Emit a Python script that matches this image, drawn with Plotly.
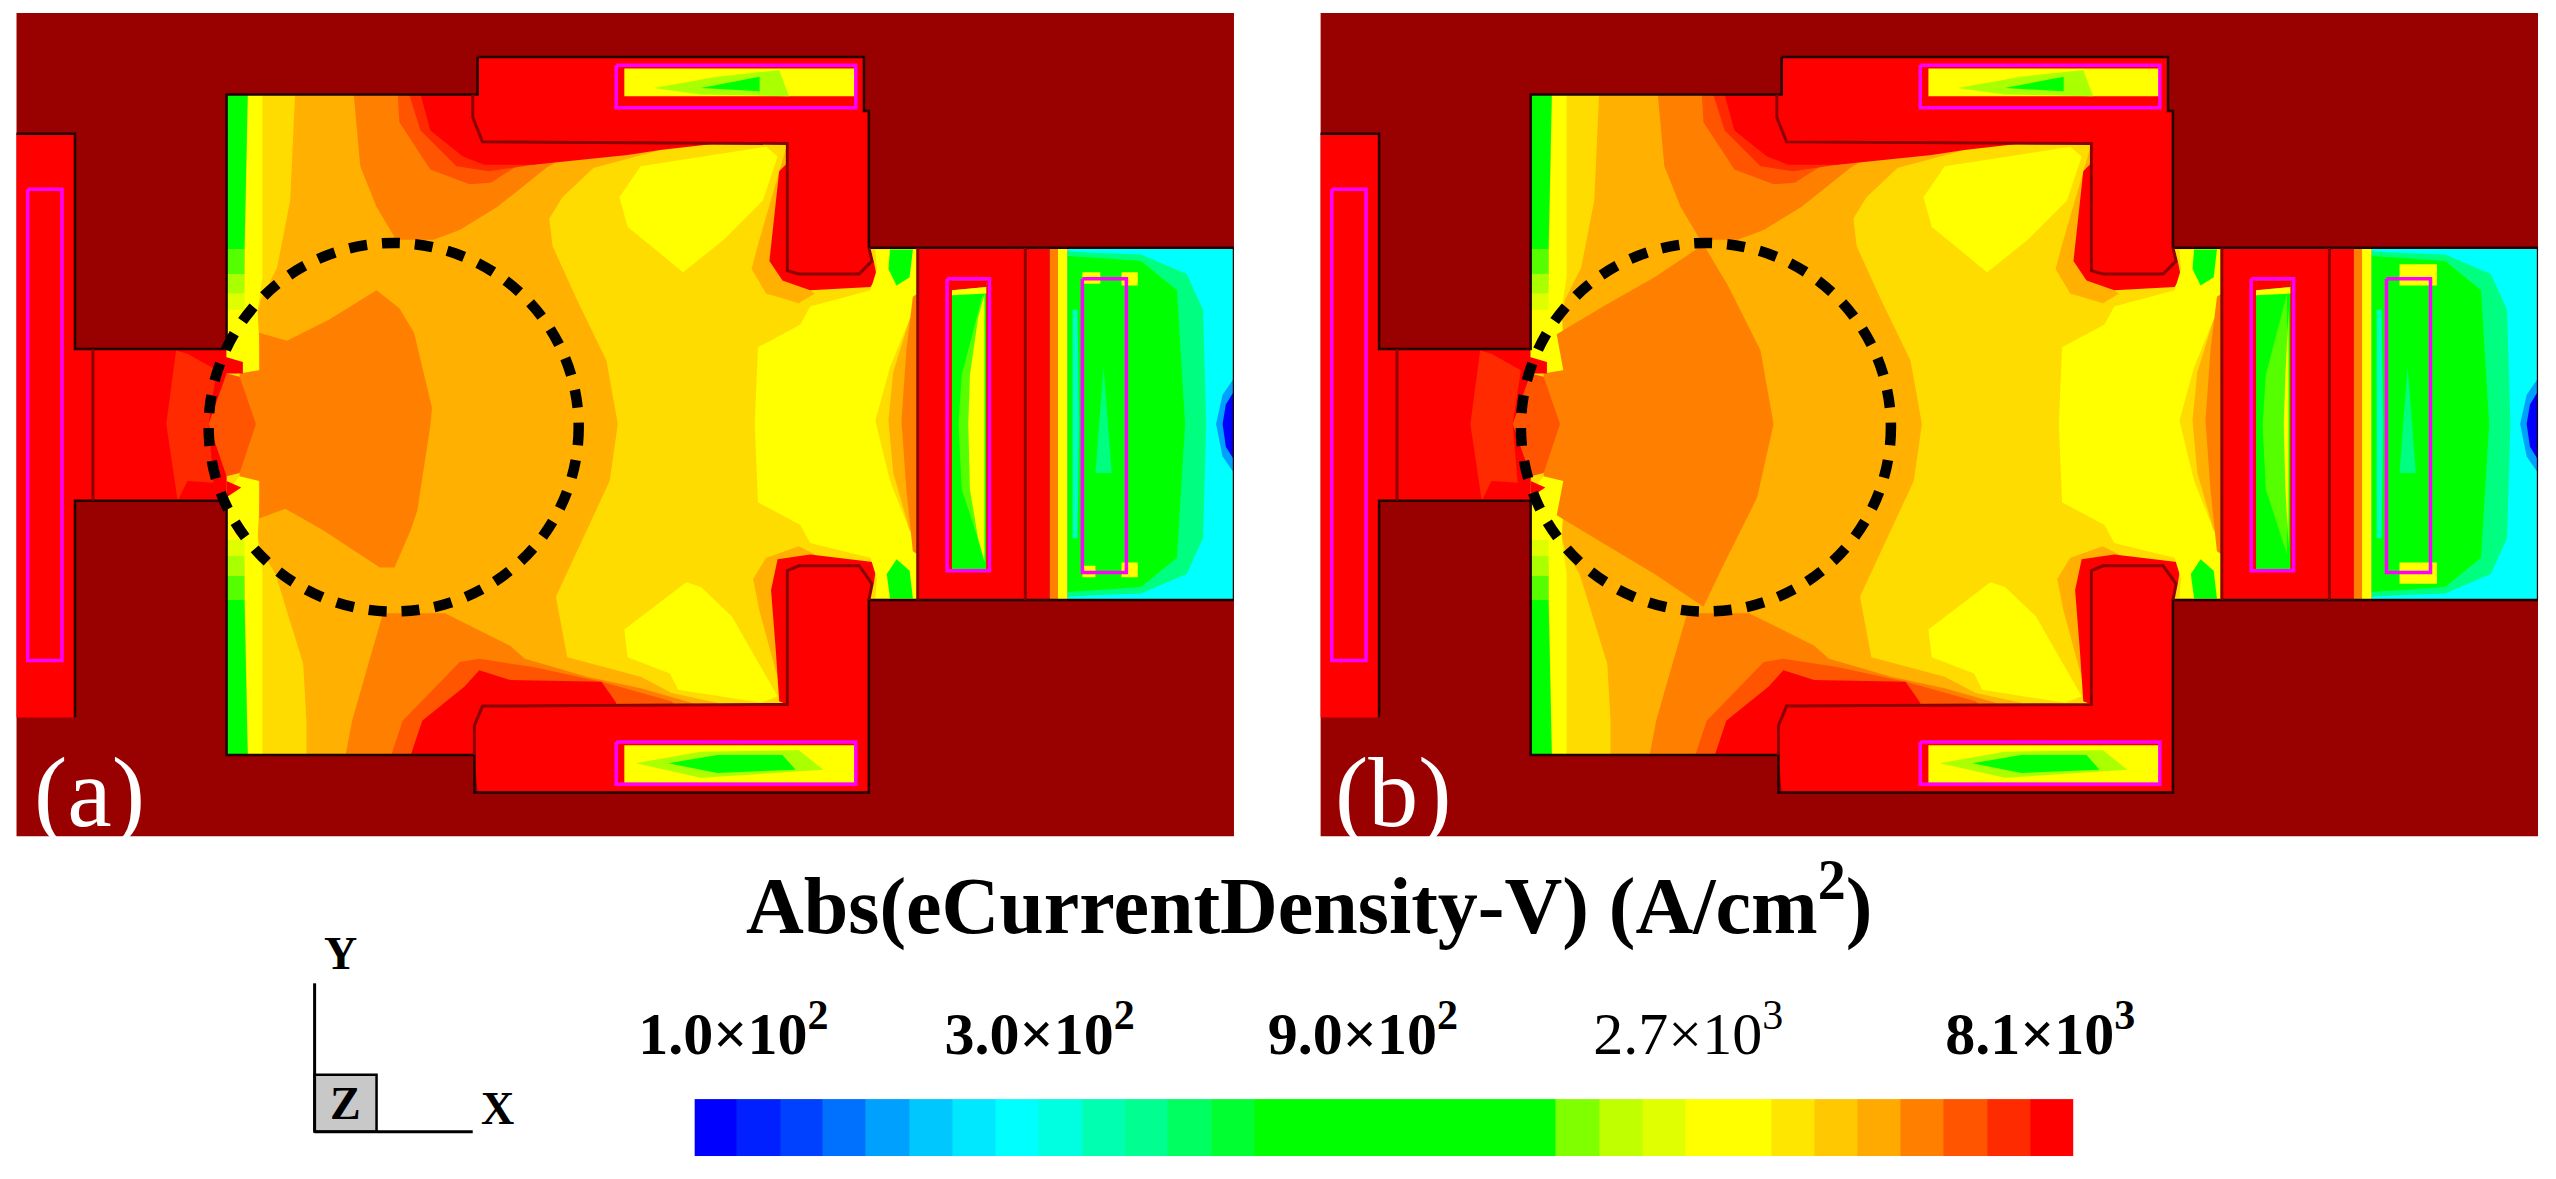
import plotly.graph_objects as go

# picture units, the whole figure is 1568 x 723 of them
W, H = 1568, 723
SERIF = "Liberation Serif"

DARK = "#990000"
RED = "#ff0000"
RED2 = "#ff2a00"
RED3 = "#ff5500"
ORANGE = "#ff8000"
AMBER = "#ffb000"
GOLD = "#ffdc00"
YELLOW = "#ffff00"
LIME1 = "#dfff00"
LIME2 = "#aaff00"
LIME3 = "#55ff00"
GREEN = "#00ff00"
SPRING = "#00ff80"
CYAN = "#00ffff"
SKY = "#00a0ff"
BLUE = "#0000ff"
MAGENTA = "#ff00ff"

# colour bar
bar_edges = [87.7, 101, 117, 135, 156, 181, 209, 241, 279, 323, 373, 431, 499, 576, 666, 770, 890,
             1029, 1189, 1375, 1589, 1837, 2123, 2455, 2838, 3280, 3792, 4383, 5067, 5857, 6771, 7827, 9057]
bar_levels = list(range(32))
bar_colors = ["#0000ff", "#0020ff", "#0040ff", "#0070ff", "#00a0ff", "#00c8ff", "#00e8ff", "#00ffff",
              "#00ffe0", "#00ffb0", "#00ff90", "#00ff60", "#00ff30", "#00ff00", "#00ff00", "#00ff00",
              "#00ff00", "#00ff00", "#00ff00", "#00ff00", "#80ff00", "#c0ff00", "#e0ff00", "#ffff00",
              "#ffff00", "#ffe600", "#ffc800", "#ffaa00", "#ff8000", "#ff5500", "#ff2b00", "#ff0000"]
# where the labels sit along the bar
tick_values = [100, 280, 830, 2480, 8100]
tick_labels = ["<b>1.0×10<sup>2</sup></b>", "<b>3.0×10<sup>2</sup></b>", "<b>9.0×10<sup>2</sup></b>",
               "2.7×10<sup>3</sup>", "<b>8.1×10<sup>3</sup></b>"]

# device parts
panel = [(10, 8), (757, 8), (757, 513), (10, 513)]
gate = [(10, 82), (46, 82), (46, 440), (10, 440)]
neck = [(46, 214), (139, 214), (139, 307), (46, 307)]
top_block = [(293, 35), (530, 35), (530, 68), (533, 68), (533, 152), (535, 160), (527, 168), (490, 168), (483, 166),
             (483, 88), (296, 87), (290, 72), (290, 58), (293, 57)]
bottom_block = [(293, 486), (533, 486), (533, 368), (535, 358), (527, 347), (490, 347), (483, 350),
                (483, 432), (296, 433), (291, 445), (291, 463)]
right_red = [(563, 152), (644, 152), (644, 368), (563, 368)]
cavity = [(139, 58), (290, 58), (290, 72), (296, 87), (483, 88), (483, 166), (490, 168), (527, 168), (535, 160), (533, 152),
          (563, 152), (563, 368), (533, 368), (535, 358), (527, 347), (490, 347), (483, 350), (483, 432),
          (296, 433), (291, 445), (291, 463), (139, 463)]

# contour regions of the main cavity
amber_zone = [(181, 58), (290, 58), (290, 72), (296, 87), (420, 88), (364, 103), (345, 121), (337, 134), (339, 151),
              (354, 184), (372, 221), (379, 260), (374, 295), (360, 325), (341, 366), (348, 403), (393, 415),
              (412, 425), (440, 431), (440, 433), (296, 433), (291, 445), (291, 463), (188, 463), (188, 442), (186, 407),
              (169, 352), (160, 337), (155, 316), (150, 280), (150, 240), (155, 205), (160, 184), (170, 164), (178, 123)]
orange_top = [(217, 58), (290, 58), (290, 72), (296, 87), (360, 88), (335, 103), (305, 127), (282, 141), (266, 147),
              (243, 147), (231, 127), (221, 102)]
red3_top = [(244, 58), (290, 58), (290, 72), (296, 87), (370, 88), (345, 95), (317, 102), (301, 112), (288, 113),
            (264, 104), (245, 75)]
red2_top = [(251, 58), (290, 58), (290, 72), (296, 87), (390, 88), (340, 99), (300, 105), (280, 102), (258, 80)]
red_top = [(258, 58), (290, 58), (290, 72), (296, 87), (440, 88), (405, 92), (385, 95), (327, 101), (297, 101),
           (284, 96), (264, 80)]
orange_bottom = [(212, 463), (216, 442), (226, 407), (235, 376), (273, 376), (313, 396), (322, 404), (360, 415),
                 (393, 422), (421, 430), (430, 433), (296, 433), (291, 445), (291, 463)]
red3_bottom = [(240, 463), (247, 442), (282, 406), (294, 404), (327, 409), (369, 418), (412, 430), (415, 433),
               (296, 433), (291, 445), (291, 463)]
red_bottom = [(252, 463), (259, 442), (285, 421), (294, 411), (313, 417), (369, 418), (378, 431), (378, 433),
              (296, 433), (291, 445), (291, 463)]
yellow_upper = [(380, 121), (393, 102), (470, 90), (477, 96), (468, 123), (444, 147), (419, 167), (385, 139)]
yellow_lower = [(421, 357), (383, 386), (385, 403), (411, 413), (416, 423), (467, 431), (477, 427), (449, 378), (430, 360)]
yellow_right = [(465, 213), (491, 199), (497, 188), (534, 178), (538, 165), (537, 153), (562, 153), (562, 190), (558, 196),
                (546, 225), (537, 258), (546, 295), (558, 325), (562, 332), (562, 367), (537, 367), (538, 355),
                (534, 342), (497, 333), (491, 322), (465, 308), (463, 260)]
amber_right = [(558, 196), (563, 190), (563, 330), (558, 325), (548, 290), (545, 258), (548, 228)]
orange_right = [(560, 182), (563, 180), (563, 340), (560, 338), (556, 300), (553, 258), (556, 215)]
amber_corner_top = [(481, 95), (483, 88), (483, 170), (500, 180), (490, 186), (470, 180), (461, 165), (465, 150)]
red_corner_top = [(483, 100), (478, 105), (472, 160), (480, 172), (497, 178), (534, 176), (538, 170), (536, 160),
                  (527, 168), (490, 168), (483, 166)]
amber_corner_bottom = [(481, 430), (483, 432), (483, 350), (500, 340), (490, 335), (470, 342), (462, 355), (466, 375)]
red_corner_bottom = [(478, 430), (483, 432), (483, 350), (490, 347), (527, 347), (536, 358), (538, 345), (497, 340),
                     (477, 343), (473, 362), (476, 400)]
blob_top = [(546, 153), (560, 153), (558, 170), (550, 175), (545, 165)]
blob_bottom = [(546, 367), (560, 367), (558, 350), (550, 343), (544, 352)]

# strip along the left wall
green_top = [(139, 58), (152, 58), (150, 153), (139, 153)]
lime3_top = [(139, 153), (150, 153), (150, 168), (139, 168)]
lime2_top = [(139, 168), (150, 168), (150, 180), (139, 180)]
lime1_top = [(139, 180), (150, 180), (150, 190), (139, 190)]
yellow_top = [(139, 190), (150, 175), (152, 58), (161, 58), (161, 170), (158, 190), (160, 227), (147, 229), (139, 219)]
green_bottom = [(139, 463), (152, 463), (150, 368), (139, 368)]
lime3_bottom = [(139, 368), (150, 368), (150, 353), (139, 353)]
lime2_bottom = [(139, 353), (150, 353), (150, 341), (139, 341)]
lime1_bottom = [(139, 341), (150, 341), (150, 331), (139, 331)]
yellow_bottom = [(139, 331), (150, 346), (152, 463), (161, 463), (161, 351), (158, 331), (160, 294), (147, 292), (139, 302)]

# neck field
neck_red2 = [(108, 215), (115, 217), (133, 227), (128, 260), (131, 296), (115, 295), (109, 307), (102, 260)]
neck_red3 = [(139, 229), (147, 231), (157, 260), (147, 290), (139, 292), (128, 260)]
tip_top = [(139, 219), (149, 222), (149, 229), (139, 229), (133, 227)]
tip_bottom = [(139, 295), (148, 299), (139, 305)]

# central spot differs between the panels
centre_a = [(147, 229), (159, 227), (159, 204), (176, 209), (202, 196), (231, 178), (245, 189), (254, 204), (265, 250),
            (264, 261), (256, 313), (252, 325), (242, 348), (233, 348), (198, 325), (175, 312), (159, 318), (159, 295), (147, 292)]
centre_b = [(147, 229), (159, 227), (155, 205), (185, 187), (215, 170), (245, 150), (260, 175), (280, 215), (288, 260),
            (278, 305), (258, 345), (245, 372), (215, 352), (185, 334), (155, 316), (159, 295), (147, 292)]

# right part of the channel
right_orange = [(644, 152), (649, 152), (649, 368), (644, 368)]
right_yellow = [(649, 152), (655, 152), (655, 368), (649, 368)]
field_cyan = [(655, 152), (757, 152), (757, 368), (655, 368)]
field_spring = [(655, 154), (670, 155), (700, 156), (728, 168), (738, 190), (740, 260), (738, 330), (728, 352), (700, 364),
                (670, 365), (655, 366)]
field_green = [(655, 157), (672, 158), (700, 160), (722, 178), (727, 260), (722, 342), (700, 360), (672, 362), (655, 363)]
sliver = [(658, 190), (661, 190), (662, 260), (661, 330), (658, 330)]
blue_outer = [(757, 232), (750, 242), (746, 260), (750, 280), (757, 290)]
blue_inner = [(757, 240), (752, 248), (750, 260), (752, 274), (757, 282)]
spike = [(677, 225), (682, 290), (672, 290)]
tips_a = [[(664, 167), (675, 167), (675, 174), (664, 174)], [(688, 167), (698, 167), (698, 175), (688, 175)],
          [(664, 347), (672, 347), (672, 354), (664, 354)], [(688, 345), (698, 345), (698, 354), (688, 354)]]
tips_b = [[(672, 162), (695, 162), (695, 175), (672, 175)], [(672, 345), (695, 345), (695, 358), (672, 358)]]
rect_green = [(584, 172), (605, 172), (605, 350), (584, 350)]
rect_top_red = [(584, 172), (605, 172), (605, 176), (584, 178)]
rect_top_yellow = [(584, 178), (605, 176), (605, 180), (584, 181)]
rect_lime = [(603, 180), (590, 230), (588, 260), (590, 300), (603, 340)]
rect_yellow_a = [(604, 180), (600, 195), (595, 230), (594, 260), (595, 300), (600, 330), (604, 345)]
rect_yellow_b = [(604, 190), (602, 230), (601, 260), (602, 300), (604, 335)]

# contacts, top and bottom
contact_top = [(383, 42), (525, 42), (525, 59), (383, 59)]
wedge_top_lime = [(401, 54), (440, 47), (478, 43), (484, 59), (430, 58)]
wedge_top_green = [(430, 54), (466, 47), (466, 56)]
contact_bottom = [(383, 457), (525, 457), (525, 480), (383, 480)]
wedge_bottom_lime = [(390, 468), (430, 461), (490, 460), (505, 472), (430, 477)]
wedge_bottom_green = [(410, 468), (440, 463), (480, 463), (488, 472), (440, 474)]

# outlines
wall_left = [(10, 82), (46, 82), (46, 214), (139, 214), (139, 58), (293, 58), (293, 35)]
wall_left_low = [(46, 440), (46, 307), (139, 307), (139, 463), (291, 463), (291, 486), (533, 486), (533, 368), (757, 368)]
wall_right = [(533, 152), (533, 68), (530, 68), (530, 35), (293, 35)]
wall_channel = [(533, 152), (757, 152), (757, 368)]
edge_top = [(290, 58), (290, 72), (296, 87), (483, 88), (483, 166), (490, 168), (527, 168), (535, 160), (533, 152)]
edge_bottom = [(291, 463), (291, 445), (296, 433), (483, 432), (483, 350), (490, 347), (527, 347), (535, 358), (533, 368)]
edges_inner = [[(57, 214), (57, 307)], [(563, 152), (563, 368)], [(629, 152), (629, 368)]]
pink_rects = [[(17, 116), (38, 116), (38, 405), (17, 405), (17, 116)],
              [(378, 40), (525, 40), (525, 66), (378, 66), (378, 40)],
              [(378, 455), (525, 455), (525, 481), (378, 481), (378, 455)],
              [(581, 171), (607, 171), (607, 350), (581, 350), (581, 171)],
              [(664, 171), (691, 171), (691, 351), (664, 351), (664, 171)]]

# circle marking the active area: x0, x1 for each panel, y0, y1 shared
circle_a = (128, 355)
circle_b = (133, 360)
circle_y = (149, 375)

field_layers = [
    (DARK, panel), (RED, gate), (RED, neck), (RED, top_block), (RED, bottom_block), (RED, right_red),
    (GOLD, cavity), (AMBER, amber_zone), (ORANGE, orange_top), (RED3, red3_top), (RED2, red2_top), (RED, red_top),
    (ORANGE, orange_bottom), (RED3, red3_bottom), (RED, red_bottom), (YELLOW, yellow_upper), (YELLOW, yellow_lower),
    (AMBER, amber_corner_top), (RED, red_corner_top), (AMBER, amber_corner_bottom), (RED, red_corner_bottom),
    (YELLOW, yellow_right), (AMBER, amber_right), (ORANGE, orange_right), (GREEN, blob_top), (GREEN, blob_bottom),
    (YELLOW, yellow_top), (GREEN, green_top), (LIME3, lime3_top), (LIME2, lime2_top), (LIME1, lime1_top),
    (YELLOW, yellow_bottom), (GREEN, green_bottom), (LIME3, lime3_bottom), (LIME2, lime2_bottom), (LIME1, lime1_bottom),
]
neck_layers = [(RED2, neck_red2), (RED3, neck_red3), (RED, tip_top), (RED, tip_bottom)]
right_layers = [
    (ORANGE, right_orange), (YELLOW, right_yellow), (CYAN, field_cyan), (SPRING, field_spring), (GREEN, field_green),
    ("#00ffc0", sliver), (SKY, blue_outer), (BLUE, blue_inner), (SPRING, spike),
    (GREEN, rect_green), (RED, rect_top_red), (YELLOW, rect_top_yellow), (LIME3, rect_lime),
    (YELLOW, contact_top), (LIME2, wedge_top_lime), (GREEN, wedge_top_green),
    (YELLOW, contact_bottom), (LIME2, wedge_bottom_lime), (GREEN, wedge_bottom_green),
]
layers_a = field_layers + [(ORANGE, centre_a)] + neck_layers + right_layers + [(YELLOW, rect_yellow_a)] + [(YELLOW, p) for p in tips_a]
layers_b = field_layers + [(ORANGE, centre_b)] + neck_layers + right_layers + [(YELLOW, rect_yellow_b)] + [(YELLOW, p) for p in tips_b]


def split(pts):
    return [p[0] for p in pts], [p[1] for p in pts]


def joined(paths):
    xs, ys = [], []
    for path in paths:
        xs += [p[0] for p in path] + [None]
        ys += [p[1] for p in path] + [None]
    return xs, ys


def add_panel(fig, layers, xa, ya):
    for color, pts in layers:
        x, y = split(pts)
        fig.add_trace(go.Scatter(x=x, y=y, mode="none", fill="toself", fillcolor=color, hoverinfo="skip", xaxis=xa, yaxis=ya))
    x, y = joined([wall_left, wall_left_low, wall_right, wall_channel])
    fig.add_trace(go.Scatter(x=x, y=y, mode="lines", line=dict(color="#200000", width=2.5), hoverinfo="skip", xaxis=xa, yaxis=ya))
    x, y = joined([edge_top, edge_bottom] + edges_inner)
    fig.add_trace(go.Scatter(x=x, y=y, mode="lines", line=dict(color="#8a0000", width=3), hoverinfo="skip", xaxis=xa, yaxis=ya))
    x, y = joined(pink_rects)
    fig.add_trace(go.Scatter(x=x, y=y, mode="lines", line=dict(color=MAGENTA, width=3.5), hoverinfo="skip", xaxis=xa, yaxis=ya))


def xdom(a, b):
    return [a / W, b / W]


def ydom(top, bottom):
    return [1 - bottom / H, 1 - top / H]


fig = go.Figure()
add_panel(fig, layers_a, "x", "y")
add_panel(fig, layers_b, "x2", "y2")

stops = []
for i, c in enumerate(bar_colors):
    stops += [[i / 32, c], [(i + 1) / 32, c]]
fig.add_trace(go.Heatmap(x=bar_edges, y=[0, 1], z=[bar_levels], colorscale=stops, zmin=0, zmax=31,
                         showscale=False, hoverinfo="skip", xaxis="x3", yaxis="y3"))

hidden = dict(visible=False, showgrid=False, zeroline=False, automargin=False)
fig.update_layout(
    width=2556, height=1179, margin=dict(l=0, r=0, t=0, b=0), autosize=False,
    paper_bgcolor="white", plot_bgcolor="white", showlegend=False,
    xaxis=dict(domain=xdom(10, 757), range=[10, 757], **hidden),
    yaxis=dict(domain=ydom(8, 513), range=[513, 8], **hidden),
    xaxis2=dict(domain=xdom(810, 1557), range=[10, 757], anchor="y2", **hidden),
    yaxis2=dict(domain=ydom(8, 513), range=[513, 8], anchor="x2", **hidden),
    xaxis3=dict(domain=xdom(426, 1272), type="log", range=[1.943, 3.957], anchor="y3", side="top", showgrid=False,
                zeroline=False, showline=False, ticks="", tickmode="array", tickvals=tick_values, ticktext=tick_labels,
                automargin=False, ticklabelstandoff=32, tickangle=0,
                tickfont=dict(family=SERIF, size=60, color="black")),
    yaxis3=dict(domain=ydom(674, 709), range=[0, 1], anchor="x3", **hidden),
)

# dashed circles on the two panels
for xr, yr, cx in (("x", "y", circle_a), ("x2", "y2", circle_b)):
    fig.add_shape(type="circle", xref=xr, yref=yr, x0=cx[0], x1=cx[1], y0=circle_y[0], y1=circle_y[1],
                  line=dict(color="black", width=10.5, dash="18px,15px"))


def label(text, x, y, size, color="black"):
    fig.add_annotation(text=text, xref="paper", yref="paper", x=x / W, y=1 - y / H, showarrow=False,
                       xanchor="center", yanchor="middle", font=dict(family=SERIF, size=size, color=color))


label("(a)", 55, 486, 100, "white")
label("(b)", 855, 486, 100, "white")
label("<b>Abs(eCurrentDensity-V) (A/cm<sup>2</sup>)</b>", 803, 552, 80)

# coordinate triad
fig.add_shape(type="rect", xref="paper", yref="paper", x0=193 / W, x1=231 / W, y0=1 - 694 / H, y1=1 - 659 / H,
              fillcolor="#c8c8c8", line=dict(color="black", width=2.5))
fig.add_shape(type="line", xref="paper", yref="paper", x0=193 / W, x1=193 / W, y0=1 - 694 / H, y1=1 - 603 / H,
              line=dict(color="black", width=3))
fig.add_shape(type="line", xref="paper", yref="paper", x0=193 / W, x1=290 / W, y0=1 - 694 / H, y1=1 - 694 / H,
              line=dict(color="black", width=3))
label("<b>Y</b>", 209, 585, 46)
label("<b>Z</b>", 212, 677, 46)
label("<b>X</b>", 305, 680, 46)

fig.write_html("out.html", config=dict(displayModeBar=False), post_script="document.body.style.margin='0'")
